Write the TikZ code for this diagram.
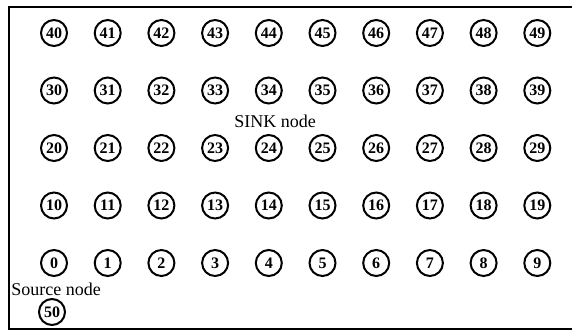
\documentclass[tikz,border=0pt]{standalone}
\usepackage{fontspec}
\setmainfont{Liberation Serif}
\begin{document}
\begin{tikzpicture}[x=1pt,y=-1pt,
  sensor/.style={circle,draw,line width=2pt,minimum size=26pt,inner sep=0pt,font=\fontsize{16}{16}\selectfont\bfseries},
  lbl/.style={inner sep=0pt,font=\fontsize{18}{18}\selectfont}]
\useasboundingbox (0,0) rectangle (572,331);
\draw[line width=2pt] (9,7) rectangle (574,329);
\foreach \r in {0,...,4}{
  \foreach \c in {0,...,9}{
    \pgfmathtruncatemacro{\n}{10*\r+\c}
    \node[sensor] (n\n) at ({54+53.7*\c},{263-57.5*\r}) {\n};
  }
}
\node[sensor] (n50) at (52,312) {50};
\node[lbl] (src) at (56,289) {Source node};
\node[lbl] (sink) at (275,121) {SINK node};
\end{tikzpicture}
\end{document}
